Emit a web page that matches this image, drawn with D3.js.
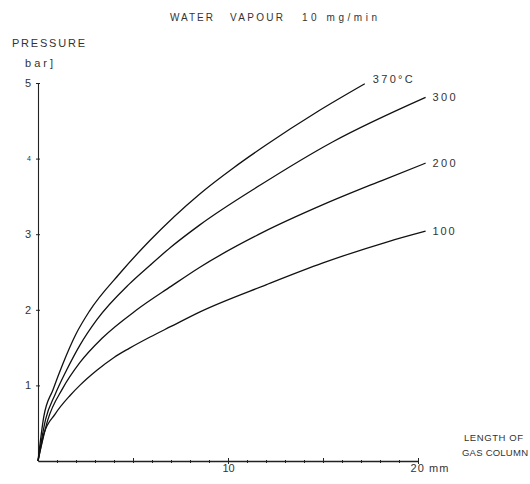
<!DOCTYPE html>
<html>
<head>
<meta charset="utf-8">
<script src="https://cdn.jsdelivr.net/npm/d3@7"></script>
<style>
    body { margin: 0; background: #fff; }
    text { font-family: "Liberation Sans", "DejaVu Sans", sans-serif; fill: #333; }
</style>
</head>
<body>
<svg id="drawing_region"></svg>
<script>
// curves: length of gas column [mm] -> pressure [bar]
const series_names = ['370°C', '300', '200', '100'];

const length_370   = [0, 0.3, 0.8, 1.3, 2.0, 2.7, 4.3, 5.9, 8.5, 10.3, 12.0, 14.7, 17.2];
const pressure_370 = [0, 0.58, 0.95, 1.28, 1.68, 1.98, 2.48, 2.92, 3.53, 3.88, 4.18, 4.62, 4.99];

const length_300   = [0, 0.4, 0.9, 1.5, 2.2, 3.1, 4.8, 5.9, 7.0, 8.5, 11.7, 15.5, 20.4];
const pressure_300 = [0, 0.55, 0.88, 1.20, 1.53, 1.87, 2.34, 2.59, 2.83, 3.12, 3.65, 4.22, 4.81];

const length_200   = [0, 0.5, 1.3, 2.2, 3.4, 5.2, 7.0, 8.5, 11.8, 15.0, 18.1, 20.4];
const pressure_200 = [0, 0.53, 0.96, 1.30, 1.63, 2.00, 2.31, 2.56, 3.02, 3.39, 3.71, 3.94];

const length_100   = [0, 0.3, 0.9, 1.7, 2.2, 3.1, 4.0, 4.8, 5.9, 7.0, 8.5, 12.0, 15.0, 18.4, 20.4];
const pressure_100 = [0, 0.35, 0.62, 0.87, 1.00, 1.20, 1.37, 1.49, 1.64, 1.78, 1.97, 2.33, 2.62, 2.90, 3.04];

const x_ticks = [10, 20];
const x_tick_labels = ['10', '20 mm'];
const y_ticks = [1, 2, 3, 4, 5];

const data = [
    {name: series_names[0], xs: length_370, ys: pressure_370, w: 40},
    {name: series_names[1], xs: length_300, ys: pressure_300, w: 23},
    {name: series_names[2], xs: length_200, ys: pressure_200, w: 23},
    {name: series_names[3], xs: length_100, ys: pressure_100, w: 22}
].map( s => ({ name: s.name, w: s.w, values: s.xs.map( (x, i) => ({x: x, y: s.ys[i]}) ) }) );

class LinePlot {

    constructor( config, data ) {
        this.config = config;
        this.data = data;
        this.init();
    }

    init() {
        let self = this;

        self.svg = d3.select( self.config.parent )
            .attr('width', self.config.width)
            .attr('height', self.config.height);

        self.xscale = d3.scaleLinear()
            .domain([0, 20])
            .range([38, 418]);

        self.yscale = d3.scaleLinear()
            .domain([0, 5])
            .range([461, 83]);

        self.line = d3.line()
            .x( d => self.xscale(d.x) )
            .y( d => self.yscale(d.y) )
            .curve( d3.curveMonotoneX );
    }

    label( x, y, str, len, size ) {
        this.svg.append('text')
            .attr('x', x).attr('y', y)
            .attr('font-size', size)
            .attr('textLength', len)
            .attr('lengthAdjust', 'spacing')
            .text( str );
    }

    render() {
        let self = this;

        // x axis: small ticks every mm, longer at 5 mm
        self.xaxis_minor = d3.axisBottom( self.xscale )
            .tickValues( d3.range(1, 20) )
            .tickSize(2)
            .tickFormat('');
        self.svg.append('g')
            .attr('transform', `translate(0, ${self.yscale(0)})`)
            .call( self.xaxis_minor )
            .call( g => g.selectAll('.tick line').attr('y1', d => d % 5 == 0 ? -3 : -1).attr('stroke', '#222') )
            .call( g => g.select('.domain').remove() );

        self.xaxis = d3.axisBottom( self.xscale )
            .tickValues( x_ticks )
            .tickSize(3)
            .tickSizeOuter(0)
            .tickFormat( (d, i) => x_tick_labels[i] );
        self.svg.append('g')
            .attr('transform', `translate(0, ${self.yscale(0)})`)
            .call( self.xaxis )
            .call( g => g.select('.domain').attr('stroke', '#222').attr('stroke-width', 1.3) )
            .call( g => g.selectAll('.tick line').attr('y1', -3).attr('stroke', '#222') )
            .call( g => g.selectAll('.tick text')
                .attr('font-size', 11)
                .attr('y', 3)
                .attr('text-anchor', 'start')
                .attr('dx', d => d == 20 ? -8 : -6)
                .attr('textLength', d => d == 20 ? 38 : 12)
                .attr('lengthAdjust', 'spacing')
                .style('fill', '#333') );

        self.yaxis = d3.axisLeft( self.yscale )
            .tickValues( y_ticks )
            .tickSize(2)
            .tickSizeOuter(0)
            .tickFormat( d3.format('d') );
        self.svg.append('g')
            .attr('transform', `translate(${self.xscale(0)}, 0)`)
            .call( self.yaxis )
            .call( g => g.select('.domain').attr('stroke', '#222').attr('stroke-width', 1.1) )
            .call( g => g.selectAll('.tick line').attr('x1', 2).attr('x2', -2).attr('stroke', '#222') )
            .call( g => g.selectAll('.tick text')
                .attr('font-size', d => d == 4 ? 7 : 11)
                .attr('x', -7)
                .style('fill', '#333') );

        self.svg.append('g')
            .selectAll('path')
            .data( self.data )
            .join('path')
            .attr('d', d => self.line(d.values))
            .attr('fill', 'none')
            .attr('stroke', '#111')
            .attr('stroke-width', 1.3);

        self.svg.append('g')
            .selectAll('text')
            .data( self.data )
            .join('text')
            .attr('x', (d, i) => self.xscale(d.values[d.values.length - 1].x) + (i == 0 ? 8 : 7))
            .attr('y', d => self.yscale(d.values[d.values.length - 1].y))
            .attr('dy', (d, i) => i == 0 ? '-0.1em' : '0.35em')
            .attr('font-size', 11)
            .attr('textLength', d => d.w)
            .attr('lengthAdjust', 'spacing')
            .text( d => d.name );

        // titles
        self.label(170, 21, 'WATER', 43, 10);
        self.label(230, 21, 'VAPOUR', 53, 10);
        self.label(302, 21, '10 mg/min', 75, 10);

        self.label(12, 47, 'PRESSURE', 73, 11);
        self.label(25, 67, 'bar]', 28, 11);

        self.label(464, 441, 'LENGTH OF', 59, 9.5);
        self.label(462, 456, 'GAS COLUMN', 66, 9.5);
    }
}

var config = {
    parent: '#drawing_region',
    width: 530,
    height: 484
};

const line_plot = new LinePlot( config, data );
line_plot.render();
</script>
</body>
</html>
